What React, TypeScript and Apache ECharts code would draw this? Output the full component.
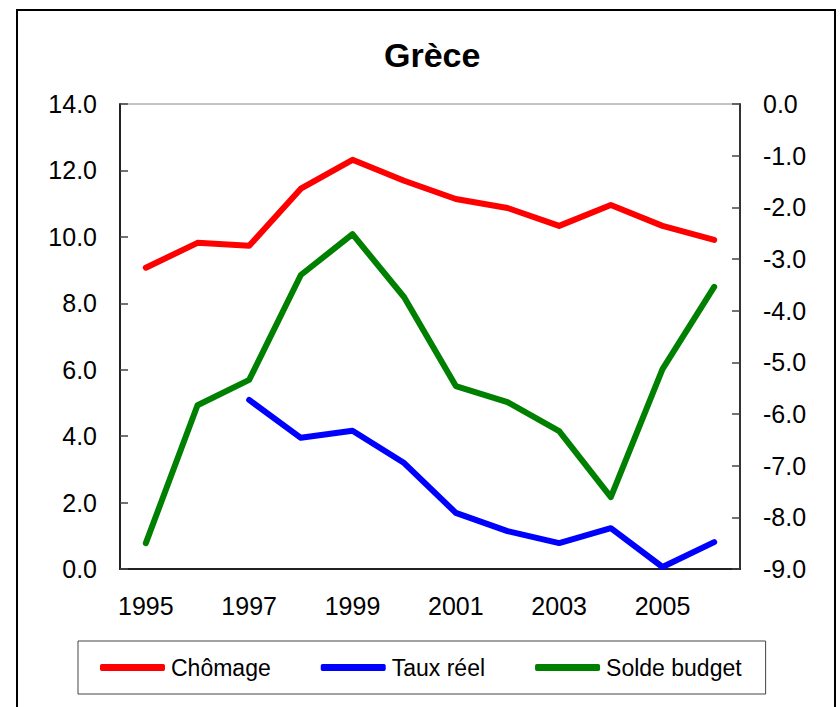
import React, { useEffect, useRef } from "react";
import * as echarts from "echarts";

const years = ["1995", "1996", "1997", "1998", "1999", "2000", "2001", "2002", "2003", "2004", "2005", "2006"];
const chomage = [9.07, 9.82, 9.73, 11.45, 12.32, 11.69, 11.14, 10.87, 10.33, 10.96, 10.33, 9.91];
const tauxReel = [null, null, 5.09, 3.95, 4.16, 3.19, 1.69, 1.14, 0.78, 1.23, 0.06, 0.81];
const soldeBudget = [-8.5, -5.83, -5.34, -3.31, -2.52, -3.74, -5.46, -5.77, -6.33, -7.61, -5.13, -3.54];

const FONT = "Liberation Sans, Arial, sans-serif";

export default function App() {
  const ref = useRef<HTMLDivElement>(null);
  useEffect(() => {
    if (!ref.current) return;
    const chart = echarts.init(ref.current, null, { renderer: "svg" });
    const lineSeries = (name: string, data: any[], color: string, yAxisIndex: number) => ({
      name,
      type: "line",
      data,
      yAxisIndex,
      symbol: "none",
      connectNulls: false,
      lineStyle: { color, width: 6, cap: "round", join: "round" },
      itemStyle: { color },
    });
    chart.setOption({
      animation: false,
      backgroundColor: "#ffffff",
      textStyle: { fontFamily: FONT },
      title: {
        text: "Grèce",
        left: 379,
        top: 33,
        textStyle: { fontFamily: FONT, fontSize: 34, fontWeight: "bold", color: "#000" },
      },
      graphic: [
        {
          type: "rect",
          shape: { x: 17, y: 10, width: 818, height: 720 },
          style: { fill: "none", stroke: "#000", lineWidth: 2 },
          silent: true,
        },
      ],
      grid: {
        left: 120,
        right: 100,
        top: 104,
        bottom: 138,
        show: true,
        borderColor: "#888",
        borderWidth: 1,
      },
      legend: {
        left: 78,
        top: 641,
        orient: "horizontal",
        borderColor: "#444",
        borderWidth: 1,
        padding: [15, 24, 15, 22],
        itemGap: 50,
        itemWidth: 65,
        itemHeight: 7,
        icon: "roundRect",
        textStyle: { fontFamily: FONT, fontSize: 23, color: "#000", padding: [0, 0, 0, 1] },
        data: ["Chômage", "Taux réel", "Solde budget"],
      },
      xAxis: {
        type: "category",
        data: years,
        boundaryGap: true,
        axisLine: { show: true, lineStyle: { color: "#222", width: 2 } },
        axisTick: { show: false },
        axisLabel: { interval: 1, margin: 24, fontSize: 25, color: "#000", fontFamily: FONT },
        splitLine: { show: false },
      },
      yAxis: [
        {
          type: "value",
          min: 0,
          max: 14,
          interval: 2,
          position: "left",
          axisLine: { show: true, lineStyle: { color: "#222", width: 2 } },
          axisTick: { show: true, inside: true, length: 8, lineStyle: { color: "#444", width: 1.5 } },
          axisLabel: {
            margin: 23,
            fontSize: 25,
            color: "#000",
            fontFamily: FONT,
            formatter: (v: number) => v.toFixed(1),
          },
          splitLine: { show: false },
        },
        {
          type: "value",
          min: -9,
          max: 0,
          interval: 1,
          position: "right",
          axisLine: { show: true, lineStyle: { color: "#333", width: 2 } },
          axisTick: { show: true, inside: true, length: 8, lineStyle: { color: "#444", width: 1.5 } },
          axisLabel: {
            margin: 23,
            fontSize: 25,
            color: "#000",
            fontFamily: FONT,
            formatter: (v: number) => v.toFixed(1),
          },
          splitLine: { show: false },
        },
      ],
      series: [
        lineSeries("Chômage", chomage, "#ff0000", 0),
        lineSeries("Taux réel", tauxReel, "#0000ff", 0),
        lineSeries("Solde budget", soldeBudget, "#008000", 1),
      ],
    });
    return () => chart.dispose();
  }, []);
  return (
    <div
      ref={ref}
      style={{ position: "fixed", left: 0, top: 0, width: 840, height: 707, background: "#fff" }}
    />
  );
}
